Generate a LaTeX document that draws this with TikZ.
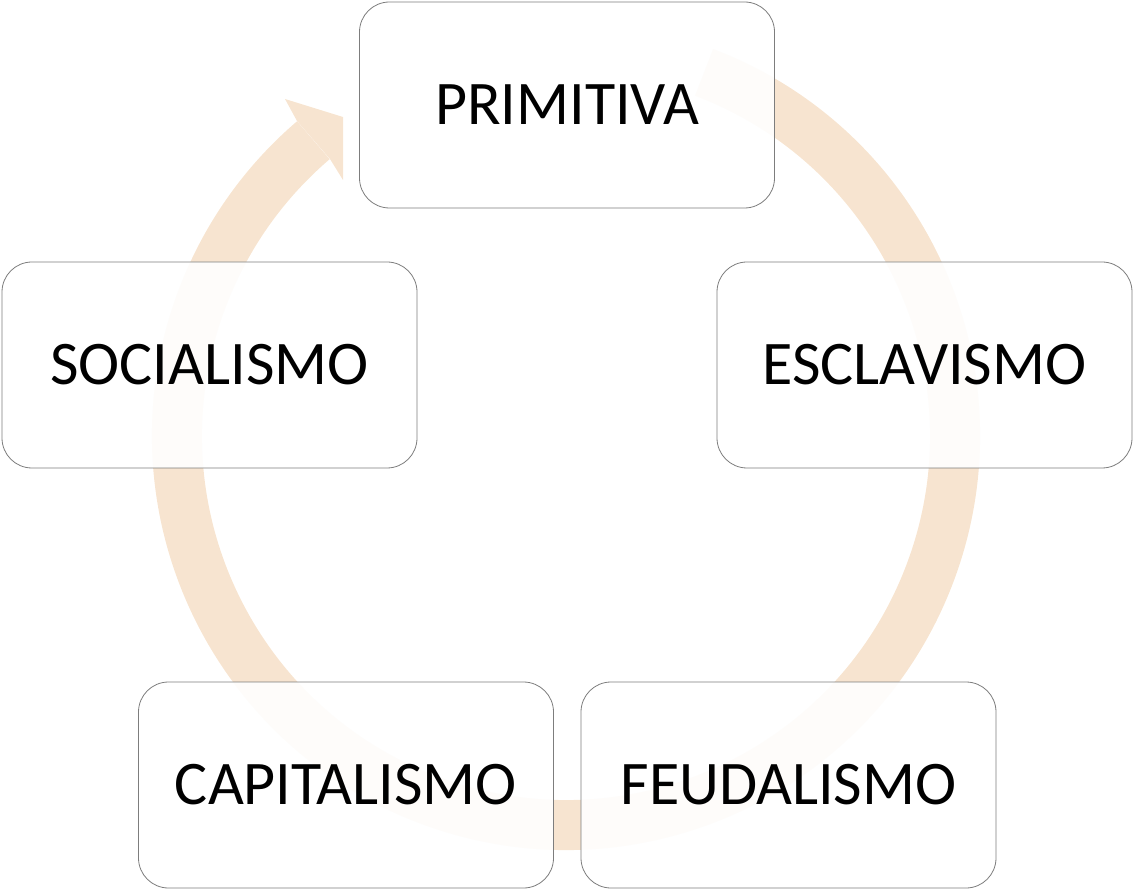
\documentclass[tikz,border=0pt]{standalone}
\usepackage{fontspec}
\setmainfont{Carlito}
\usetikzlibrary{calc}
\definecolor{ringcol}{RGB}{247,228,208}
\definecolor{boxline}{RGB}{125,125,125}
\begin{document}
\begin{tikzpicture}[x=1pt, y=1pt,
  stage/.style={rectangle, rounded corners=30pt, draw=boxline, line width=0.8pt,
                fill=white, fill opacity=0.9, text opacity=1,
                minimum width=415pt, minimum height=206pt,
                font=\fontsize{62}{74}\selectfont, align=center},
  ring/.style={draw=ringcol, line width=50pt}
]
\useasboundingbox (0,0) rectangle (1133,-890);
% ring behind the boxes
\coordinate (c) at (566,-436);
\draw[ring] ($(c)+(69.2:389)$) arc[start angle=69.2, end angle=-229.5, radius=389];
\fill[ringcol] (297,-121) -- (285,-99) -- (343,-117) -- (343,-180) -- (330,-159) -- cycle;

\node[stage] (primitiva) at (567,-105) {PRIMITIVA};
\node[stage] (esclavismo) at (924.5,-365) {ESCLAVISMO};
\node[stage] (feudalismo) at (788.5,-785) {FEUDALISMO};
\node[stage] (capitalismo) at (346,-785) {CAPITALISMO};
\node[stage] (socialismo) at (209.5,-365) {SOCIALISMO};
\end{tikzpicture}
\end{document}
